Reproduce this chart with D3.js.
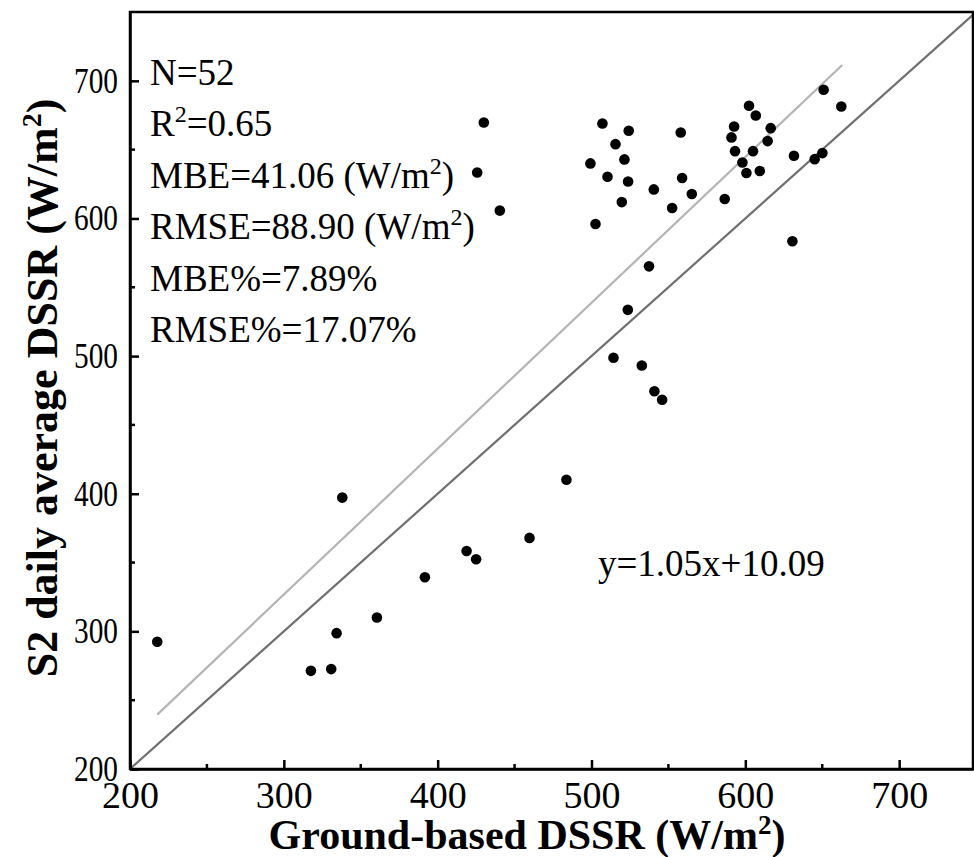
<!DOCTYPE html>
<meta charset="utf-8">
<style>
  body { margin: 0; background: #fff; }
  svg text { font-family: "Liberation Serif", "Times New Roman", serif; fill: #000; }
  .axis text { font-size: 38px; }
  .y.axis text { font-size: 36px; }
  .axis path, .axis line { stroke: #000; stroke-width: 2.5px; }
  .title { font-weight: bold; font-size: 42px; }
  .stats text { font-size: 37px; }
</style>
<svg class="chart"></svg>
<script src="https://d3js.org/d3.v7.min.js"></script>
<script>

  // ground-based DSSR (x) vs S2 daily average DSSR (y), W/m2
  var groundDSSR = [
    217.7, 317.6, 330.8, 334.3, 360.5, 338.0, 391.7, 418.8, 425.0, 459.7, 483.7,
    430.0, 425.7, 440.4,
    507.1, 524.2, 558.0, 515.6, 521.4, 499.3, 510.4, 523.8, 558.9, 540.5, 565.2,
    519.7, 552.4, 502.6, 537.4, 523.6,
    514.3, 532.7, 540.9, 545.9,
    586.6, 602.4, 606.8, 592.7, 616.5, 591.0, 614.5, 593.3, 605.0, 598.1, 600.7,
    609.4, 631.6, 645.1, 650.1, 650.9, 662.4, 630.6
  ];
  var s2DSSR = [
    292.4, 271.3, 272.6, 298.7, 310.1, 397.2, 339.3, 358.4, 352.4, 367.9, 410.2,
    669.7, 633.4, 605.7,
    669.0, 663.7, 662.5, 654.0, 642.9, 640.0, 630.3, 626.9, 629.4, 621.1, 617.8,
    611.9, 607.6, 596.0, 565.2, 533.6,
    498.8, 493.2, 474.5, 468.3,
    614.1, 681.9, 674.8, 666.8, 665.6, 658.9, 656.2, 648.9, 648.9, 640.7, 633.0,
    634.5, 645.6, 643.1, 647.5, 693.5, 681.3, 583.4
  ];

  // fitted line y = 1.05x + 10.09, drawn over the data range
  var fitX = [217.7, 663.0];
  var fitY = [239.5, 711.5];
  var oneToOne = [200, 750];

  var majorTicks = [200, 300, 400, 500, 600, 700];
  var minorTicksX = [250, 350, 450, 550, 650];
  var minorTicksY = [250, 350, 450, 550, 650];

  var statLines = [
    ["N=52"],
    ["R", "2", "=0.65"],
    ["MBE=41.06 (W/m", "2", ")"],
    ["RMSE=88.90 (W/m", "2", ")"],
    ["MBE%=7.89%"],
    ["RMSE%=17.07%"]
  ];

  var W = 974, H = 857;
  var plot = { left: 130, right: 973, top: 12, bottom: 769 };

  var svg = d3.select(".chart").attr("width", W).attr("height", H);

  var x = d3.scaleLinear().domain([200, 748]).range([plot.left, plot.right]);
  var y = d3.scaleLinear().domain([200, 750]).range([plot.bottom, plot.top]);

  svg.append("defs").append("clipPath").attr("id", "plot")
    .append("rect")
      .attr("x", plot.left).attr("y", plot.top)
      .attr("width", plot.right - plot.left).attr("height", plot.bottom - plot.top);

  // 1:1 line
  svg.append("line")
      .attr("clip-path", "url(#plot)")
      .attr("x1", x(oneToOne[0])).attr("y1", y(oneToOne[0]))
      .attr("x2", x(oneToOne[1])).attr("y2", y(oneToOne[1]))
      .attr("stroke", "#707070")
      .attr("stroke-width", 2.2);

  // fit line
  svg.append("line")
      .attr("x1", x(fitX[0])).attr("y1", y(fitY[0]))
      .attr("x2", x(fitX[1])).attr("y2", y(fitY[1]))
      .attr("stroke", "#b4b4b4")
      .attr("stroke-width", 2.2);

  svg.append("g")
    .selectAll("circle")
      .data(groundDSSR)
    .enter().append("circle")
      .attr("cx", function(d) { return x(d); })
      .attr("cy", function(d, i) { return y(s2DSSR[i]); })
      .attr("r", 5.3)
      .attr("fill", "#000");

  // frame
  svg.append("rect")
      .attr("x", plot.left).attr("y", plot.top)
      .attr("width", plot.right - plot.left).attr("height", plot.bottom - plot.top)
      .attr("fill", "none")
      .attr("stroke", "#000")
      .attr("stroke-width", 2.5);

  var xAxis = svg.append("g")
      .attr("class", "x axis")
      .attr("transform", "translate(0," + plot.bottom + ")")
      .call(d3.axisBottom(x).tickValues(majorTicks).tickSizeInner(-9).tickSizeOuter(0).tickPadding(12));
  xAxis.append("g").selectAll("line")
      .data(minorTicksX)
    .enter().append("line")
      .attr("x1", function(d) { return x(d); }).attr("x2", function(d) { return x(d); })
      .attr("y1", 0).attr("y2", -5);

  var yAxis = svg.append("g")
      .attr("class", "y axis")
      .attr("transform", "translate(" + plot.left + ",0)")
      .call(d3.axisLeft(y).tickValues(majorTicks).tickSizeInner(-9).tickSizeOuter(0).tickPadding(12));
  yAxis.append("g").selectAll("line")
      .data(minorTicksY)
    .enter().append("line")
      .attr("y1", function(d) { return y(d); }).attr("y2", function(d) { return y(d); })
      .attr("x1", 0).attr("x2", 5);

  svg.selectAll(".axis text").attr("font-family", null).attr("font-size", null);
  // y tick labels are narrower in the original
  yAxis.selectAll(".tick text")
      .attr("textLength", 44)
      .attr("lengthAdjust", "spacingAndGlyphs");

  // axis titles
  var xTitle = svg.append("text")
      .attr("class", "title")
      .attr("x", 527)
      .attr("y", 849)
      .attr("text-anchor", "middle");
  xTitle.append("tspan").text("Ground-based DSSR (W/m");
  xTitle.append("tspan").attr("dy", -15).style("font-size", "27px").text("2");
  xTitle.append("tspan").attr("dy", 15).text(")");

  var yTitle = svg.append("text")
      .attr("class", "title")
      .style("font-size", "44px")
      .attr("transform", "translate(57,388) rotate(-90)")
      .attr("text-anchor", "middle");
  yTitle.append("tspan").text("S2 daily average DSSR (W/m");
  yTitle.append("tspan").attr("dy", -16).style("font-size", "28px").text("2");
  yTitle.append("tspan").attr("dy", 16).text(")");

  // statistics block
  var stats = svg.append("g").attr("class", "stats");
  statLines.forEach(function(parts, i) {
    var t = stats.append("text")
        .attr("x", 150)
        .attr("y", 85 + i * 51.4);
    parts.forEach(function(p, j) {
      var sup = parts.length > 1 && j === 1;
      t.append("tspan")
          .attr("dy", sup ? -14 : (j === 2 ? 14 : 0))
          .style("font-size", sup ? "24px" : null)
          .text(p);
    });
  });

  svg.append("text")
      .attr("x", 598)
      .attr("y", 576)
      .style("font-size", "37px")
      .text("y=1.05x+10.09");

</script>
